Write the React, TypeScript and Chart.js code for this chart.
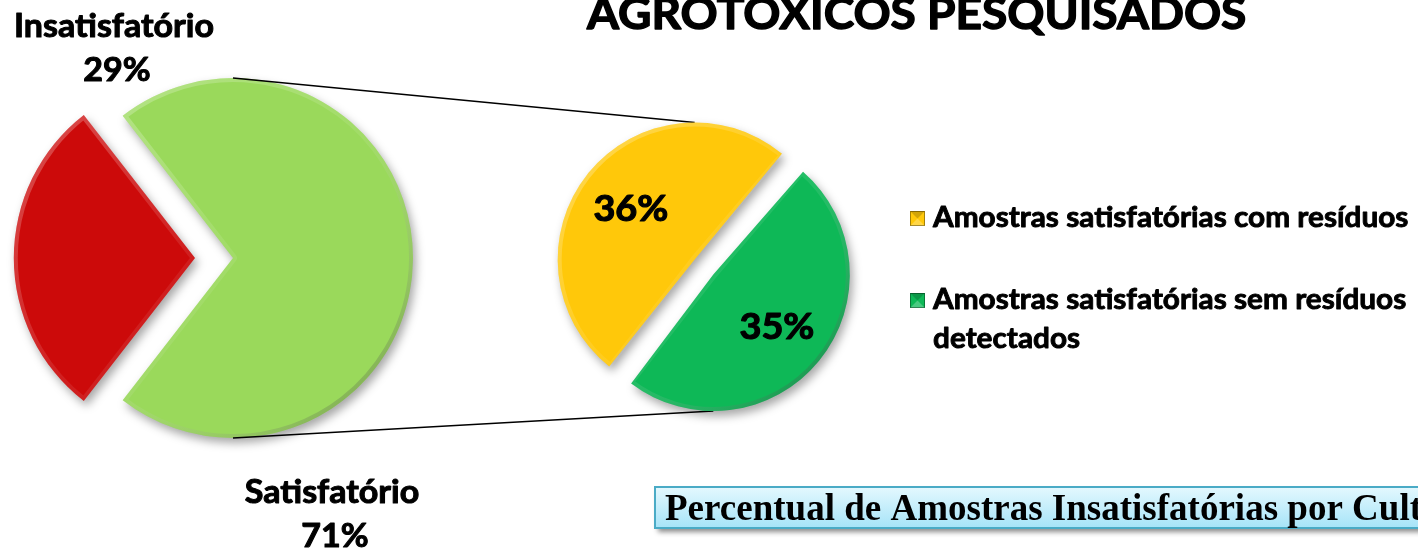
import React, { useEffect, useRef } from "react";
import { Chart, registerables } from "chart.js";
Chart.register(...registerables);

// ---- data ----
const TITLE = "AGROTÓXICOS PESQUISADOS";
const MAIN_LABELS = ["Insatisfatório", "Satisfatório"];
const MAIN_VALUES = [29, 71];
const MAIN_COLORS = ["#cc0a0a", "#9ad95b"];
const SUB_LABELS = [
  "Amostras satisfatórias com resíduos",
  "Amostras satisfatórias sem resíduos detectados",
];
const SUB_VALUES = [36, 35];
const SUB_COLORS = ["#ffc80a", "#0eb857"];
const BOX_TEXT = "Percentual de Amostras Insatisfatórias por Cultura";

// ---- layout ----
const W = 1418;
const H = 549;
const FONT = '"Lato", "Open Sans", sans-serif';
const WEIGHT = "bold";
const CAL = 0.9; // Lato px per Calibri px (cap-height match)

function arcGeom(arc: any) {
  const o = ((arc.options && arc.options.offset) || 0) / 4;
  const s = arc.startAngle;
  const e = arc.endAngle;
  const mid = (s + e) / 2;
  const fix = 1 - Math.sin(Math.min(Math.PI, e - s));
  return {
    x: arc.x + Math.cos(mid) * o,
    y: arc.y + Math.sin(mid) * o,
    r: arc.outerRadius + o * fix,
    s,
    e,
    mid,
  };
}

function bevel(ctx: CanvasRenderingContext2D, chart: any) {
  const arcs = chart.getDatasetMeta(0).data;
  arcs.forEach((a: any) => {
    const g = arcGeom(a);
    ctx.save();
    ctx.beginPath();
    ctx.moveTo(g.x, g.y);
    ctx.arc(g.x, g.y, g.r, g.s, g.e);
    ctx.closePath();
    ctx.clip();
    const grad = ctx.createLinearGradient(g.x - g.r, g.y - g.r, g.x + g.r, g.y + g.r);
    grad.addColorStop(0, "rgba(255,255,255,0.30)");
    grad.addColorStop(0.5, "rgba(255,255,255,0.08)");
    grad.addColorStop(1, "rgba(0,0,0,0.32)");
    ctx.strokeStyle = grad;
    ctx.lineWidth = 8;
    ctx.lineJoin = "round";
    ctx.stroke();
    ctx.restore();
  });
}

let K = 1; // horizontal scale Lato -> Calibri-like widths
function computeK(ctx: CanvasRenderingContext2D) {
  ctx.save();
  ctx.font = `${WEIGHT} ${36.6 * CAL}px ${FONT}`;
  const w = ctx.measureText(MAIN_LABELS[0]).width;
  ctx.restore();
  K = w > 0 ? 200 / w : 1;
}

function drawText(
  ctx: CanvasRenderingContext2D,
  text: string,
  x: number,
  y: number,
  calibriPx: number,
  align: CanvasTextAlign,
  sx = K
) {
  ctx.save();
  ctx.font = `${WEIGHT} ${calibriPx * CAL}px ${FONT}`;
  ctx.fillStyle = "#000";
  ctx.strokeStyle = "#000";
  ctx.lineWidth = calibriPx * 0.028;
  ctx.lineJoin = "round";
  ctx.textBaseline = "alphabetic";
  ctx.textAlign = align;
  ctx.translate(x, y);
  ctx.scale(sx, 1);
  ctx.fillText(text, 0, 0);
  ctx.strokeText(text, 0, 0);
  ctx.restore();
}

function shadowOn(chart: any) {
  const ctx = chart.ctx;
  ctx.save();
  ctx.shadowColor = "rgba(0,0,0,0.35)";
  ctx.shadowBlur = 10;
  ctx.shadowOffsetX = 3;
  ctx.shadowOffsetY = 5;
}

export default function App() {
  const refA = useRef<HTMLCanvasElement>(null);
  const refB = useRef<HTMLCanvasElement>(null);

  useEffect(() => {
    if (!refA.current || !refB.current) return;
    const total = MAIN_VALUES.reduce((a, b) => a + b, 0);
    const rotation = 270 - ((MAIN_VALUES[0] / total) * 360) / 2;

    const mainDecor = {
      id: "mainDecor",
      beforeDatasetsDraw(chart: any) {
        shadowOn(chart);
      },
      afterDatasetsDraw(chart: any) {
        const ctx = chart.ctx;
        ctx.restore();
        bevel(ctx, chart);
      },
      afterDraw(chart: any) {
        const ctx: CanvasRenderingContext2D = chart.ctx;
        computeK(ctx);
        // title
        drawText(ctx, TITLE, 587, 29, 49.5, "left");
        // main labels
        const pos = [
          { x: 114, y: 37 },
          { x: 332, y: 503 },
        ];
        MAIN_LABELS.forEach((lab, i) => {
          drawText(ctx, lab, pos[i].x, pos[i].y, 36.6, "center");
          drawText(ctx, `${MAIN_VALUES[i]}%`, pos[i].x + 3, pos[i].y + 44, 36.6, "center");
        });
        // bottom box
        const bx = 655, by = 487, bw = 900, bh = 41;
        ctx.save();
        ctx.shadowColor = "rgba(0,0,0,0.45)";
        ctx.shadowBlur = 5;
        ctx.shadowOffsetX = 3;
        ctx.shadowOffsetY = 4;
        const g = ctx.createLinearGradient(0, by, 0, by + bh);
        g.addColorStop(0, "#e4f8fe");
        g.addColorStop(1, "#a6e4f8");
        ctx.fillStyle = g;
        ctx.fillRect(bx, by, bw, bh);
        ctx.restore();
        ctx.save();
        ctx.strokeStyle = "#4aabc6";
        ctx.lineWidth = 2;
        ctx.strokeRect(bx, by, bw, bh);
        ctx.font = `bold 37px "Liberation Serif", "Times New Roman", serif`;
        const prefix = "Percentual de Amostras Insatisfatórias por Cult";
        const pw = ctx.measureText(prefix).width;
        const sx = pw > 0 ? 757 / pw : 1;
        ctx.fillStyle = "#000";
        ctx.translate(665, 520);
        ctx.scale(sx, 1);
        ctx.fillText(BOX_TEXT, 0, 0);
        ctx.restore();
      },
    };

    const chartA = new Chart(refA.current, {
      type: "pie",
      data: {
        labels: MAIN_LABELS,
        datasets: [
          {
            data: MAIN_VALUES,
            backgroundColor: MAIN_COLORS,
            borderWidth: 0,
            offset: [152, 0],
            radius: 180,
          } as any,
        ],
      },
      options: {
        responsive: false,
        animation: false,
        devicePixelRatio: 1,
        rotation,
        events: [],
        layout: { padding: { left: 0, top: 0, right: W - 466, bottom: H - 516 } },
        plugins: { legend: { display: false }, tooltip: { enabled: false } },
      } as any,
      plugins: [mainDecor],
    });

    const subDecor = {
      id: "subDecor",
      beforeDatasetsDraw(chart: any) {
        const ctx: CanvasRenderingContext2D = chart.ctx;
        // connector lines
        const mainArc = chartA.getDatasetMeta(0).data[1] as any;
        const mx = mainArc.x, my = mainArc.y, mr = mainArc.outerRadius;
        const arcs = chart.getDatasetMeta(0).data;
        const gTop = arcGeom(arcs[0]);
        const gBot = arcGeom(arcs[1]);
        ctx.save();
        ctx.strokeStyle = "#000";
        ctx.lineWidth = 1.6;
        ctx.beginPath();
        ctx.moveTo(mx, my - mr);
        ctx.lineTo(gTop.x, gTop.y - gTop.r);
        ctx.moveTo(mx, my + mr);
        ctx.lineTo(gBot.x, gBot.y + gBot.r);
        ctx.stroke();
        ctx.restore();
        shadowOn(chart);
      },
      afterDatasetsDraw(chart: any) {
        const ctx: CanvasRenderingContext2D = chart.ctx;
        ctx.restore();
        bevel(ctx, chart);
        computeK(ctx);
        const arcs = chart.getDatasetMeta(0).data;
        arcs.forEach((a: any, i: number) => {
          const g = arcGeom(a);
          const lx = g.x + Math.cos(g.mid) * g.r * 0.6;
          const ly = g.y + Math.sin(g.mid) * g.r * 0.6;
          drawText(ctx, `${SUB_VALUES[i]}%`, lx, ly + 13, 40.7, "center");
        });
        // legend
        const lx = 910, tx = 933;
        let y = 227;
        SUB_LABELS.forEach((lab, i) => {
          const s = 15;
          const my = y - 16;
          ctx.save();
          ctx.fillStyle = SUB_COLORS[i];
          ctx.fillRect(lx, my, s, s);
          ctx.fillStyle = "rgba(0,0,0,0.18)";
          ctx.beginPath();
          ctx.moveTo(lx, my);
          ctx.lineTo(lx + s, my);
          ctx.lineTo(lx + s / 2, my + s / 2);
          ctx.closePath();
          ctx.fill();
          ctx.fillStyle = "rgba(255,255,255,0.25)";
          ctx.beginPath();
          ctx.moveTo(lx, my + s);
          ctx.lineTo(lx + s, my + s);
          ctx.lineTo(lx + s / 2, my + s / 2);
          ctx.closePath();
          ctx.fill();
          ctx.strokeStyle = "rgba(0,0,0,0.35)";
          ctx.lineWidth = 1;
          ctx.strokeRect(lx + 0.5, my + 0.5, s - 1, s - 1);
          ctx.restore();
          ctx.save();
          ctx.font = `${WEIGHT} ${32 * CAL}px ${FONT}`;
          const words = lab.split(" ");
          const lines: string[] = [];
          let cur = "";
          words.forEach((w) => {
            const t = cur ? cur + " " + w : w;
            if (ctx.measureText(t).width * K > 495 && cur) {
              lines.push(cur);
              cur = w;
            } else cur = t;
          });
          if (cur) lines.push(cur);
          ctx.restore();
          lines.forEach((ln, j) => {
            drawText(ctx, ln, tx, y + j * 39, 32, "left");
          });
          y += 82;
        });
      },
    };

    const chartB = new Chart(refB.current, {
      type: "pie",
      data: {
        labels: SUB_LABELS,
        datasets: [
          {
            data: SUB_VALUES,
            backgroundColor: SUB_COLORS,
            borderWidth: 0,
            offset: 48,
            radius: 125,
          } as any,
        ],
      },
      options: {
        responsive: false,
        animation: false,
        devicePixelRatio: 1,
        rotation,
        events: [],
        layout: { padding: { left: 404, top: 0, right: W - 1004, bottom: H - 534 } },
        plugins: { legend: { display: false }, tooltip: { enabled: false } },
      } as any,
      plugins: [subDecor],
    });

    return () => {
      chartB.destroy();
      chartA.destroy();
    };
  }, []);

  const cs: React.CSSProperties = { position: "absolute", left: 0, top: 0, width: W, height: H };
  return (
    <div
      style={{
        position: "fixed",
        left: 0,
        top: 0,
        width: W,
        height: H,
        overflow: "hidden",
        background: "#fff",
      }}
    >
      <canvas ref={refA} width={W} height={H} style={cs} />
      <canvas ref={refB} width={W} height={H} style={cs} />
    </div>
  );
}
